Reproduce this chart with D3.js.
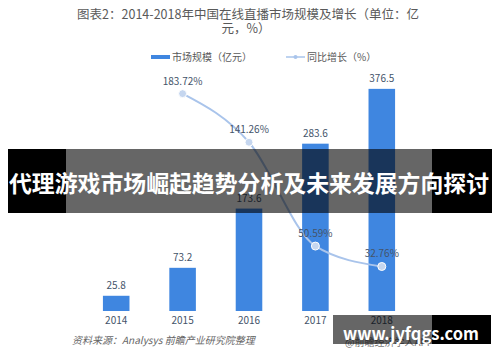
<!doctype html>
<html>
<head>
  <meta charset="utf-8">
  <script src="https://d3js.org/d3.v7.min.js"></script>
</head>
<style>
  body {
    margin: 0;
    background: #fff;
  }

  svg text {
    font-family: "Noto Sans CJK SC", "Noto Sans", sans-serif;
  }
</style>
<body>
<svg></svg>

<script>
  const years = ["2014", "2015", "2016", "2017", "2018"];
  const marketSize = [25.8, 73.2, 173.6, 283.6, 376.5];
  const growth = [null, 183.72, 141.26, 50.59, 32.76];
  const growthLabels = ["", "183.72%", "141.26%", "50.59%", "32.76%"];

  const width = 500, height = 362;
  const barColor = "#3f86e0";
  const lineColor = "#a9c4eb";
  const textColor = "#44546a";

  const svg = d3.select("svg")
    .attr("width", width)
    .attr("height", height);

  const xScale = d3.scaleBand()
    .domain(years)
    .range([83, 415])
    .paddingInner(0.6)
    .paddingOuter(0.3);
  const yBar = d3.scaleLinear()
    .domain([0, 400])
    .range([311, 75]);
  const yLine = d3.scaleLinear()
    .domain([0, 200])
    .range([304, 75]);

  // title
  const title = svg.append("g").attr("fill", "#595959").attr("font-size", 12.5).attr("text-anchor", "middle");
  title.append("text").attr("x", 248).attr("y", 19).text("图表2：2014-2018年中国在线直播市场规模及增长（单位：亿");
  title.append("text").attr("x", 246).attr("y", 33).text("元，%）");

  // legend
  const legend = svg.append("g").attr("font-size", 10).attr("fill", "#595959");
  legend.append("rect").attr("x", 151).attr("y", 55).attr("width", 19).attr("height", 4).attr("fill", barColor);
  legend.append("text").attr("x", 172).attr("y", 61).text("市场规模（亿元）");
  legend.append("line").attr("x1", 286).attr("x2", 305).attr("y1", 57).attr("y2", 57)
    .attr("stroke", lineColor).attr("stroke-width", 1.5);
  legend.append("circle").attr("cx", 295.5).attr("cy", 57).attr("r", 2).attr("fill", lineColor);
  legend.append("text").attr("x", 307).attr("y", 61).text("同比增长（%）");

  // bars
  svg.selectAll(".bar")
    .data(marketSize)
    .enter().append("rect")
    .attr("class", "bar")
    .attr("x", (d, i) => xScale(years[i]))
    .attr("y", d => yBar(d))
    .attr("width", xScale.bandwidth())
    .attr("height", d => yBar(0) - yBar(d))
    .attr("fill", barColor);

  svg.selectAll(".bar-label")
    .data(marketSize)
    .enter().append("text")
    .attr("x", (d, i) => xScale(years[i]) + xScale.bandwidth() / 2)
    .attr("y", d => yBar(d) - 7)
    .attr("text-anchor", "middle")
    .attr("font-size", 10)
    .attr("fill", textColor)
    .text(d => d);

  // x axis labels
  const xAxis = d3.axisBottom(xScale).tickSize(0).tickPadding(6);
  const axisG = svg.append("g")
    .attr("transform", `translate(0, ${yBar(0)})`)
    .call(xAxis);
  axisG.select(".domain").remove();
  axisG.selectAll("text")
    .attr("font-size", 10)
    .attr("fill", textColor)
    .attr("font-family", "\"Noto Sans CJK SC\", sans-serif");

  // growth line
  const pts = growth.map((v, i) => ({ year: years[i], v: v, label: growthLabels[i] })).filter(d => d.v !== null);
  const cx = d => xScale(d.year) + xScale.bandwidth() / 2;
  const line = d3.line()
    .x(cx)
    .y(d => yLine(d.v))
    .curve(d3.curveMonotoneX);
  svg.append("path")
    .datum(pts)
    .attr("d", line)
    .attr("fill", "none")
    .attr("stroke", lineColor)
    .attr("stroke-width", 2);
  svg.selectAll(".dot")
    .data(pts)
    .enter().append("circle")
    .attr("cx", cx)
    .attr("cy", d => yLine(d.v))
    .attr("r", 4)
    .attr("fill", "#c5d6ef")
    .attr("stroke", "#fff")
    .attr("stroke-width", 1);
  svg.selectAll(".line-label")
    .data(pts)
    .enter().append("text")
    .attr("x", cx)
    .attr("y", d => yLine(d.v) - 9)
    .attr("text-anchor", "middle")
    .attr("font-size", 10)
    .attr("fill", textColor)
    .text(d => d.label);

  // source
  svg.append("text")
    .attr("x", 72).attr("y", 344)
    .attr("font-size", 10)
    .attr("font-style", "italic")
    .attr("fill", "#666")
    .text("资料来源：Analysys  前瞻产业研究院整理");
  svg.append("text")
    .attr("x", 345).attr("y", 346)
    .attr("font-size", 10)
    .attr("fill", "#777")
    .text("@前瞻经济学人APP");

  // banner over the chart
  svg.append("rect").attr("x", 66).attr("y", 149).attr("width", 366).attr("height", 64)
    .attr("fill", "#000").attr("opacity", 0.6);
  svg.append("rect").attr("x", 8).attr("y", 149).attr("width", 58).attr("height", 64).attr("fill", "#000");
  svg.append("rect").attr("x", 432).attr("y", 149).attr("width", 60).attr("height", 64).attr("fill", "#000");
  svg.append("text")
    .attr("x", 9).attr("y", 192)
    .attr("font-size", 23)
    .attr("font-weight", "bold")
    .attr("textLength", 480)
    .attr("lengthAdjust", "spacingAndGlyphs")
    .attr("fill", "#fff")
    .text("代理游戏市场崛起趋势分析及未来发展方向探讨");

  // site watermark
  svg.append("rect").attr("x", 333).attr("y", 315).attr("width", 99).attr("height", 29)
    .attr("fill", "#000").attr("opacity", 0.6);
  svg.append("rect").attr("x", 432).attr("y", 315).attr("width", 59).attr("height", 29).attr("fill", "#000");
  svg.append("text")
    .attr("x", 343).attr("y", 340)
    .attr("font-size", 17)
    .attr("font-weight", "bold")
    .attr("textLength", 136)
    .attr("lengthAdjust", "spacingAndGlyphs")
    .attr("font-family", "\"DejaVu Sans\", sans-serif")
    .attr("fill", "#fff")
    .text("www.jyfqgs.com");
</script>
</body>
</html>
